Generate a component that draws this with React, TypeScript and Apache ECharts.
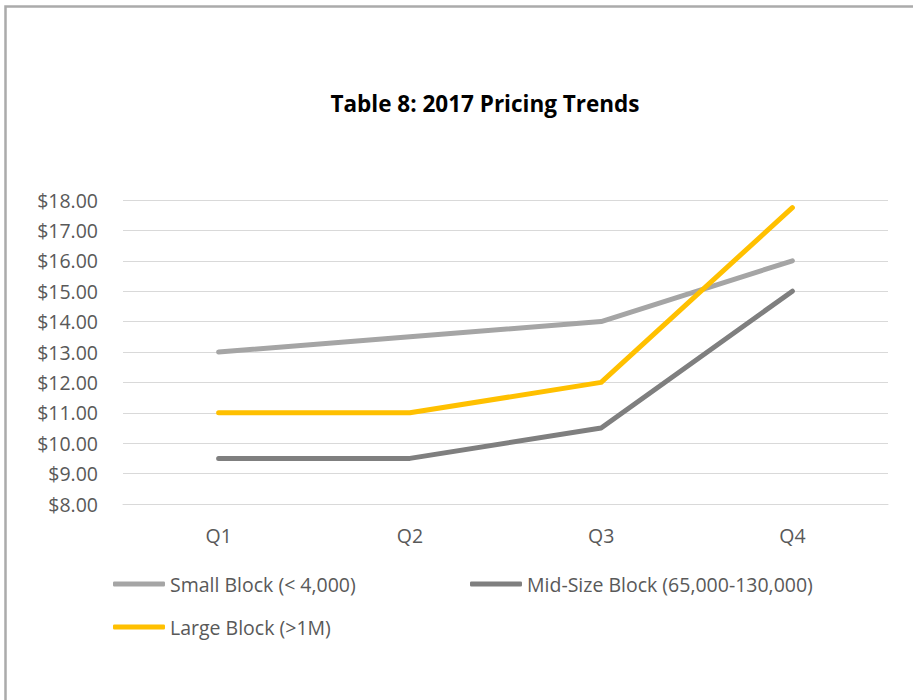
import React, { useEffect, useRef } from "react";
import * as echarts from "echarts";

const categories = ["Q1", "Q2", "Q3", "Q4"];
const smallBlock = [13, 13.5, 14, 16];
const midBlock = [9.5, 9.5, 10.5, 15];
const largeBlock = [11, 11, 12, 17.75];
const seriesNames = [
  "Small Block (< 4,000)",
  "Mid-Size Block (65,000-130,000)",
  "Large Block (>1M)",
];
const title = "Table 8: 2017 Pricing Trends";

const FONT = "'Open Sans', 'Noto Sans', sans-serif";
const TEXT = "#595959";
const FS = 19.5;

export default function App() {
  const ref = useRef<HTMLDivElement>(null);
  useEffect(() => {
    if (!ref.current) return;
    const chart = echarts.init(ref.current, undefined, { renderer: "svg" });
    const colors = ["#a5a5a5", "#7f7f7f", "#ffc000"];
    const datas = [smallBlock, midBlock, largeBlock];
    const legendBase = {
      orient: "horizontal",
      icon: "roundRect",
      itemWidth: 52,
      itemHeight: 5,
      textStyle: { color: TEXT, fontSize: FS, fontFamily: FONT, lineHeight: 22 },
      selectedMode: false,
      padding: 0,
    };
    chart.setOption({
      animation: false,
      backgroundColor: "#ffffff",
      title: {
        text: title,
        left: 480,
        textAlign: "center",
        top: 87,
        textStyle: { fontFamily: FONT, fontWeight: "bold", fontSize: 22.5, color: "#000000" },
      },
      graphic: [
        {
          type: "rect",
          shape: { x: 5.5, y: 6.5, width: 1000, height: 1000 },
          style: { fill: "none", stroke: "#ababab", lineWidth: 2.5 },
          silent: true,
        },
      ],
      legend: [
        { ...legendBase, left: 113, top: 573, data: [seriesNames[0]] },
        { ...legendBase, left: 470, top: 573, data: [seriesNames[1]] },
        { ...legendBase, left: 113, top: 616, data: [seriesNames[2]] },
      ],
      grid: { left: 123, right: 25, top: 200, bottom: 196, containLabel: false },
      xAxis: {
        type: "category",
        data: categories,
        boundaryGap: true,
        axisLine: { show: true, lineStyle: { color: "#d9d9d9", width: 1 } },
        axisTick: { show: false },
        axisLabel: { color: TEXT, fontSize: FS, fontFamily: FONT, margin: 21 },
      },
      yAxis: {
        type: "value",
        min: 8,
        max: 18,
        interval: 1,
        axisLine: { show: false },
        axisTick: { show: false },
        splitLine: { lineStyle: { color: "#d9d9d9", width: 1 } },
        axisLabel: {
          color: TEXT,
          fontSize: FS,
          fontFamily: FONT,
          margin: 25,
          formatter: (v: number) => "$" + v.toFixed(2),
        },
      },
      series: seriesNames.map((name, i) => ({
        name,
        type: "line",
        data: datas[i],
        symbol: "none",
        color: colors[i],
        lineStyle: { color: colors[i], width: 5, cap: "round", join: "round" },
        itemStyle: { color: colors[i] },
      })),
    });
    return () => chart.dispose();
  }, []);
  return (
    <div
      ref={ref}
      style={{ position: "fixed", left: 0, top: 0, width: 913, height: 700 }}
    />
  );
}
